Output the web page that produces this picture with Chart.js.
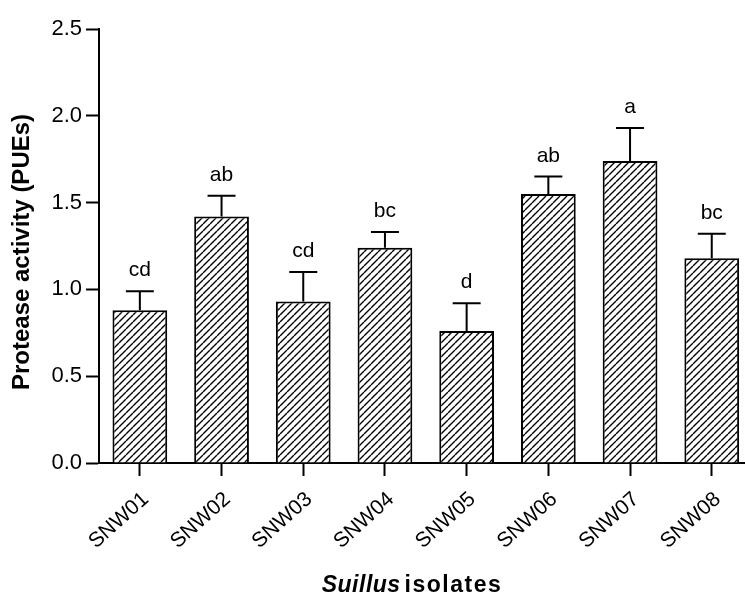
<!DOCTYPE html>
<html>
<head>
<meta charset="utf-8">
<script src="https://cdn.jsdelivr.net/npm/chart.js@4/dist/chart.umd.min.js"></script>
<style>
  html, body { margin: 0; padding: 0; background: #fff; overflow: hidden; width: 745px; height: 595px; }
  #wrap { width: 760px; height: 595px; }
</style>
</head>
<body>
<div id="wrap"><canvas id="c" width="760" height="595"></canvas></div>
<script>
const categories = ["SNW01", "SNW02", "SNW03", "SNW04", "SNW05", "SNW06", "SNW07", "SNW08"];
const means = [0.88, 1.42, 0.93, 1.24, 0.76, 1.55, 1.74, 1.18];
const errors = [0.11, 0.12, 0.17, 0.09, 0.16, 0.10, 0.19, 0.14];
const letters = ["cd", "ab", "cd", "bc", "d", "ab", "a", "bc"];
const yTicks = [0, 0.5, 1.0, 1.5, 2.0, 2.5];

const FONT = "'Liberation Sans', Arial, sans-serif";

function makeHatch() {
  const s = 7;
  const p = document.createElement('canvas');
  p.width = s; p.height = s;
  const g = p.getContext('2d');
  g.fillStyle = '#fff';
  g.fillRect(0, 0, s, s);
  g.strokeStyle = '#000';
  g.lineWidth = 1.4;
  g.beginPath();
  for (let k = -1; k <= 1; k++) {
    g.moveTo(k * s, s);
    g.lineTo(k * s + s, 0);
  }
  g.stroke();
  return g.createPattern(p, 'repeat');
}

const errorBarPlugin = {
  id: 'errorBars',
  afterDatasetsDraw(chart) {
    const ctx = chart.ctx;
    const meta = chart.getDatasetMeta(0);
    const y = chart.scales.y;
    ctx.save();
    ctx.strokeStyle = '#000';
    ctx.lineWidth = 2;
    ctx.fillStyle = '#000';
    ctx.font = "21px " + FONT;
    ctx.textAlign = 'center';
    ctx.textBaseline = 'alphabetic';
    meta.data.forEach((bar, i) => {
      const x = bar.x;
      const top = y.getPixelForValue(means[i]);
      const cap = y.getPixelForValue(means[i] + errors[i]);
      ctx.beginPath();
      ctx.moveTo(x, top);
      ctx.lineTo(x, cap);
      ctx.moveTo(x - 14, cap);
      ctx.lineTo(x + 14, cap);
      ctx.stroke();
      ctx.fillText(letters[i], x, cap - 15);
    });
    ctx.restore();
  }
};

const titlePlugin = {
  id: 'axisTitles',
  afterDraw(chart) {
    const ctx = chart.ctx;
    ctx.save();
    ctx.fillStyle = '#000';
    ctx.translate(22, 252);
    ctx.rotate(-Math.PI / 2);
    ctx.font = "bold 24px " + FONT;
    ctx.textAlign = 'center';
    ctx.textBaseline = 'middle';
    ctx.fillText("Protease activity (PUEs)", 0, 0);
    ctx.restore();

    ctx.save();
    ctx.fillStyle = '#000';
    ctx.textBaseline = 'alphabetic';
    ctx.textAlign = 'left';
    const part1 = "Suillus";
    const part2 = "isolates";
    ctx.font = "italic bold 23px " + FONT;
    ctx.letterSpacing = '0.5px';
    const w1 = ctx.measureText(part1).width;
    ctx.font = "bold 23px " + FONT;
    ctx.letterSpacing = '1.5px';
    const w2 = ctx.measureText(part2).width;
    const gap = 4;
    const total = w1 + gap + w2;
    const x0 = 412 - total / 2;
    const base = 592;
    ctx.font = "italic bold 23px " + FONT;
    ctx.letterSpacing = '0.5px';
    ctx.fillText(part1, x0, base);
    ctx.font = "bold 23px " + FONT;
    ctx.letterSpacing = '1.5px';
    ctx.fillText(part2, x0 + w1 + gap, base);
    ctx.restore();
  }
};

new Chart(document.getElementById('c'), {
  type: 'bar',
  data: {
    labels: categories,
    datasets: [{
      data: means,
      backgroundColor: makeHatch(),
      borderColor: '#000',
      borderWidth: 2,
      borderSkipped: 'start',
      barPercentage: 0.67,
      categoryPercentage: 1.0
    }]
  },
  options: {
    responsive: false,
    animation: false,
    devicePixelRatio: 1,
    layout: { padding: { top: 29, right: 7.4, bottom: 0, left: 0 } },
    plugins: { legend: { display: false }, tooltip: { enabled: false }, title: { display: false } },
    scales: {
      x: {
        offset: true,
        grid: { display: true, drawOnChartArea: false, offset: false, tickLength: 13, tickWidth: 2, tickColor: '#000' },
        border: { display: true, color: '#000', width: 2 },
        ticks: { color: '#000', font: { family: FONT, size: 21 }, minRotation: 42, maxRotation: 42, padding: 11, labelOffset: 6, autoSkip: false },
        afterFit(scale) { scale.height = 132; }
      },
      y: {
        min: 0, max: 2.5,
        afterBuildTicks(scale) { scale.ticks = yTicks.map(v => ({ value: v })); },
        grid: { display: true, drawOnChartArea: false, tickLength: 13, tickWidth: 2, tickColor: '#000' },
        border: { display: true, color: '#000', width: 2 },
        ticks: { color: '#000', font: { family: FONT, size: 22 }, padding: 4, callback: v => Number(v).toFixed(1) },
        afterFit(scale) { scale.width = 99; }
      }
    }
  },
  plugins: [errorBarPlugin, titlePlugin]
});
</script>
</body>
</html>
